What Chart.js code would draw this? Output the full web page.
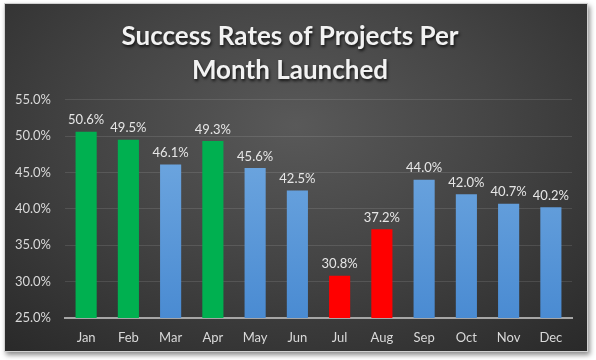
<!DOCTYPE html>
<html>
<head>
<meta charset="utf-8">
<script src="https://cdn.jsdelivr.net/npm/chart.js@4/dist/chart.umd.min.js"></script>
<style>
  html, body { margin: 0; padding: 0; background: #ffffff; }
  #wrap { position: relative; width: 596px; height: 360px; overflow: hidden; }
  #panel {
    position: absolute; left: 4px; top: 3px; width: 582px; height: 347px;
    background: radial-gradient(ellipse 75% 85% at 50% 35%, #595959 0%, #454545 45%, #2a2a2a 100%);
    box-shadow: 2px 3px 5px rgba(0,0,0,0.45);
    border: 1px solid #d0d0d0;
  }
  #c { position: absolute; left: 0; top: 0; }
</style>
</head>
<body>
<div id="wrap">
  <div id="panel"></div>
  <canvas id="c" width="596" height="360"></canvas>
</div>
<script>
const months = ["Jan","Feb","Mar","Apr","May","Jun","Jul","Aug","Sep","Oct","Nov","Dec"];
const successRates = [50.6, 49.5, 46.1, 49.3, 45.6, 42.5, 30.8, 37.2, 44.0, 42.0, 40.7, 40.2];
const barGroups = ["high","high","mid","high","mid","mid","low","low","mid","mid","mid","mid"];
const yTicks = [25, 30, 35, 40, 45, 50, 55];
const chartTitle = ["Success Rates of Projects Per", "Month Launched"];

const FONT = "Lato, 'Open Sans', sans-serif";

function barColor(ctx) {
  const g = barGroups[ctx.dataIndex];
  if (g === "high") return "#00b050";
  if (g === "low") return "#ff0000";
  const chart = ctx.chart;
  const area = chart.chartArea;
  if (!area) return "#5b9bd5";
  const grad = chart.ctx.createLinearGradient(0, area.top, 0, area.bottom);
  grad.addColorStop(0, "#78aee3");
  grad.addColorStop(1, "#4a8bd2");
  return grad;
}

const valueLabels = {
  id: "valueLabels",
  afterDatasetsDraw(chart) {
    const ctx = chart.ctx;
    const meta = chart.getDatasetMeta(0);
    ctx.save();
    ctx.font = "13px " + FONT;
    ctx.fillStyle = "#e6e6e6";
    ctx.textAlign = "center";
    ctx.textBaseline = "bottom";
    meta.data.forEach((el, i) => {
      ctx.fillText(successRates[i].toFixed(1) + "%", el.x, el.y - 5);
    });
    ctx.restore();
  }
};

const titleShadow = {
  id: "titleShadow",
  afterLayout(chart) {
    const tb = chart.titleBlock;
    if (!tb || tb._shadowWrapped) return;
    const orig = tb.draw.bind(tb);
    tb.draw = function () {
      const ctx = chart.ctx;
      ctx.save();
      ctx.shadowColor = "rgba(0,0,0,0.75)";
      ctx.shadowBlur = 3;
      ctx.shadowOffsetX = 1;
      ctx.shadowOffsetY = 2;
      orig();
      ctx.restore();
    };
    tb._shadowWrapped = true;
  }
};

new Chart(document.getElementById("c"), {
  type: "bar",
  data: {
    labels: months,
    datasets: [{
      data: successRates,
      backgroundColor: barColor,
      borderWidth: 0,
      barPercentage: 0.5,
      categoryPercentage: 1.0
    }]
  },
  options: {
    responsive: false,
    animation: false,
    layout: { padding: { left: 8, right: 24, top: 0, bottom: 0 } },
    plugins: {
      legend: { display: false },
      tooltip: { enabled: false },
      title: {
        display: true,
        text: chartTitle,
        color: "#f2f2f2",
        font: { family: FONT, size: 26, weight: "bold", lineHeight: 1.3 },
        padding: { top: 20, bottom: 12 }
      }
    },
    scales: {
      x: {
        grid: { display: false, drawTicks: false },
        border: { display: true, color: "#a6a6a6", width: 2 },
        ticks: { color: "#d9d9d9", font: { family: FONT, size: 13 }, padding: 12 },
        afterFit(scale) { scale.height = 42; }
      },
      y: {
        min: 25, max: 55,
        afterBuildTicks(scale) { scale.ticks = yTicks.map(v => ({ value: v })); },
        grid: { color: "rgba(255,255,255,0.11)", lineWidth: 1, drawTicks: false },
        border: { display: false },
        ticks: {
          color: "#d9d9d9",
          font: { family: FONT, size: 13 },
          padding: 14,
          callback: v => Number(v).toFixed(1) + "%"
        },
        afterFit(scale) { scale.width = 57; }
      }
    }
  },
  plugins: [valueLabels, titleShadow]
});
</script>
</body>
</html>
